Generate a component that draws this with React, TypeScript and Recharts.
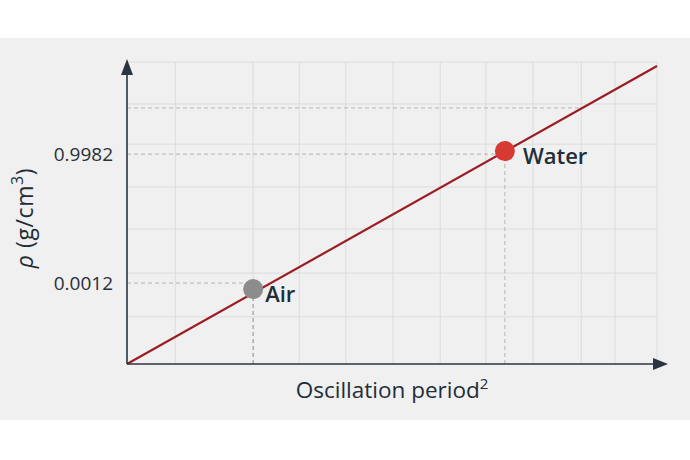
import React from "react";
import {
  ComposedChart,
  Line,
  XAxis,
  YAxis,
  ReferenceLine,
  ReferenceDot,
  Label,
} from "recharts";

// plot units: both axes run 0..100 across the drawn frame (schematic calibration plot)
const lineX = [0, 100];
const lineY = [0, 98.7];
const gridX = [9.1, 32.5, 41.3, 50.2, 59.1, 67.7, 76.6, 85.7, 92.1, 100];
const gridY = [15.6, 30.1, 44.7, 58.6, 72.8, 86.1, 100];
const yTickValues = [26.8, 69.5];
const yTickLabels = ["0.0012", "0.9982"];
const pointNames = ["Air", "Water"];
const pointX = [23.8, 71.3];
const pointY = [24.8, 70.5];
const guideY = 84.8;
const guideEndX = 85.9;

const lineData = lineX.map((x, i) => ({ x, y: lineY[i] }));

const FONT = "'Open Sans', 'Noto Sans', sans-serif";
const AXIS = "#2a3540";
const GRID = "#dcdcdc";
const DASH = "#b4b4b4";
const TEXT = "#222d38";
const DOT_COLORS = ["#8c8c8c", "#d63a32"];
const LABEL_GAPS = [2, 8];

const tickLabel = (v: number) => {
  const i = yTickValues.indexOf(v);
  return i >= 0 ? yTickLabels[i] : "";
};

export default function App() {
  return (
    <div
      style={{
        position: "absolute",
        left: 0,
        top: 0,
        width: 690,
        height: 460,
        background: "#ffffff",
        fontFamily: FONT,
      }}
    >
      <div
        style={{
          position: "absolute",
          left: 0,
          top: 38,
          width: 690,
          height: 382,
          background: "#f0f0f0",
        }}
      />
      <div style={{ position: "absolute", left: 0, top: 0 }}>
        <ComposedChart
          width={690}
          height={460}
          data={lineData}
          margin={{ top: 62, right: 33, bottom: 95, left: 126 }}
        >
          <XAxis
            type="number"
            dataKey="x"
            domain={[0, 100]}
            ticks={[]}
            tick={false}
            tickLine={false}
            height={1}
            axisLine={{ stroke: AXIS, strokeWidth: 1.6 }}
          >
            <Label
              content={(props: any) => {
                const vb = props.viewBox;
                return (
                  <text
                    x={vb.x + vb.width / 2}
                    y={vb.y + 34}
                    textAnchor="middle"
                    fontFamily={FONT}
                    fontSize={22.5}
                    fontWeight={500}
                    fill={TEXT}
                  >
                    Oscillation period
                    <tspan fontSize={15} dy={-9}>2</tspan>
                  </text>
                );
              }}
            />
          </XAxis>
          <YAxis
            type="number"
            domain={[0, 100]}
            ticks={yTickValues}
            tickFormatter={tickLabel}
            tickLine={false}
            tickSize={0}
            tickMargin={14}
            width={1}
            tick={{ fill: "#2b2f36", fontSize: 19, fontFamily: FONT }}
            axisLine={{ stroke: AXIS, strokeWidth: 1.6 }}
          >
            <Label
              content={(props: any) => {
                const vb = props.viewBox;
                const lx = vb.x + vb.width - 94;
                const ly = vb.y + vb.height / 2 + 5;
                return (
                  <text
                    x={lx}
                    y={ly}
                    transform={`rotate(-90, ${lx}, ${ly})`}
                    textAnchor="middle"
                    fontFamily={FONT}
                    fontSize={23}
                    fontWeight={500}
                    letterSpacing={0.6}
                    fill={TEXT}
                  >
                    <tspan fontStyle="italic">ρ</tspan> (g/cm
                    <tspan fontSize={16} dy={-10}>3</tspan>
                    <tspan dy={10}>)</tspan>
                  </text>
                );
              }}
            />
          </YAxis>

          {/* grid */}
          {gridY.map((v) => (
            <ReferenceLine key={`gy${v}`} y={v} stroke={GRID} strokeWidth={1} />
          ))}
          {gridX.map((v) => (
            <ReferenceLine key={`gx${v}`} x={v} stroke={GRID} strokeWidth={1} />
          ))}
          <ReferenceLine
            segment={[
              { x: pointX[0], y: pointY[0] },
              { x: pointX[0], y: 100 },
            ]}
            stroke={GRID}
            strokeWidth={1}
          />

          {/* dashed guides */}
          <ReferenceLine
            segment={[
              { x: 0, y: guideY },
              { x: guideEndX, y: guideY },
            ]}
            stroke={DASH}
            strokeDasharray="4 3"
          />
          <ReferenceLine
            segment={[
              { x: 0, y: yTickValues[0] },
              { x: pointX[0], y: yTickValues[0] },
            ]}
            stroke={DASH}
            strokeDasharray="4 3"
          />
          <ReferenceLine
            segment={[
              { x: 0, y: yTickValues[1] },
              { x: pointX[1], y: yTickValues[1] },
            ]}
            stroke={DASH}
            strokeDasharray="4 3"
          />
          {pointX.map((px, i) => (
            <ReferenceLine
              key={`vd${i}`}
              segment={[
                { x: px, y: 0 },
                { x: px, y: pointY[i] },
              ]}
              stroke={i === 0 ? "#8a8a8a" : DASH}
              strokeDasharray="4 3"
            />
          ))}

          <Line
            type="linear"
            dataKey="y"
            stroke="#9b1c24"
            strokeWidth={2.2}
            dot={false}
            activeDot={false}
            isAnimationActive={false}
          />

          {pointNames.map((name, i) => (
            <ReferenceDot
              key={name}
              x={pointX[i]}
              y={pointY[i]}
              r={10}
              fill={DOT_COLORS[i]}
              stroke="none"
              label={{
                content: (p: any) => {
                  const vb = p.viewBox;
                  return (
                    <text
                      x={vb.x + vb.width + LABEL_GAPS[i]}
                      y={vb.y + vb.height / 2 + 13}
                      fontFamily={FONT}
                      fontSize={22}
                      fontWeight={600}
                      fill={TEXT}
                    >
                      {name}
                    </text>
                  );
                },
              }}
            />
          ))}

          {/* axis arrowheads */}
          <ReferenceDot
            x={0}
            y={100}
            ifOverflow="visible"
            shape={(p: any) => (
              <path
                d={`M${p.cx},${p.cy - 3} L${p.cx - 6},${p.cy + 13} L${p.cx + 6},${p.cy + 13} Z`}
                fill={AXIS}
              />
            )}
          />
          <ReferenceDot
            x={100}
            y={0}
            ifOverflow="visible"
            shape={(p: any) => (
              <path
                d={`M${p.cx + 11},${p.cy} L${p.cx - 4},${p.cy - 6} L${p.cx - 4},${p.cy + 6} Z`}
                fill={AXIS}
              />
            )}
          />
        </ComposedChart>
      </div>
    </div>
  );
}
